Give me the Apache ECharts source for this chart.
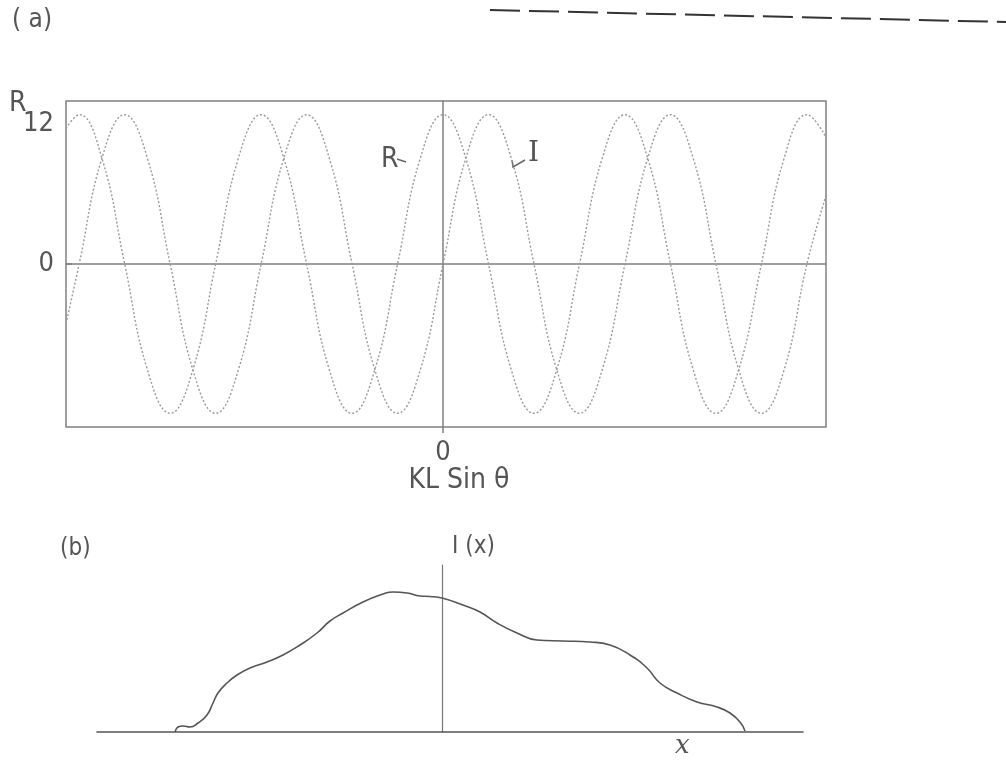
<!DOCTYPE html>
<html>
<head>
<meta charset="utf-8">
<script src="https://cdn.jsdelivr.net/npm/echarts@6/dist/echarts.min.js"></script>
<style>
html,body{margin:0;padding:0;background:#fff;}
#c{width:1006px;height:762px;}
</style>
</head>
<body>
<div id="c"></div>
<script>
// Panel (a): KL sin(theta) in quarter-period units, R and I values
const xA = [-8.29, -8, -7.5, -7, -6.5, -6, -5.5, -5, -4.5, -4, -3.5, -3, -2.5, -2, -1.5, -1, -0.5, 0,
            0.5, 1, 1.5, 2, 2.5, 3, 3.5, 4, 4.5, 5, 5.5, 6, 6.5, 7, 7.5, 8, 8.42];
const rVals = [10.9, 12, 8.5, 0, -8.5, -12, -8.5, 0, 8.5, 12, 8.5, 0, -8.5, -12, -8.5, 0, 8.5, 12,
               8.5, 0, -8.5, -12, -8.5, 0, 8.5, 12, 8.5, 0, -8.5, -12, -8.5, 0, 8.5, 12, 10.2];
const iVals = [-4.8, 0, 8.5, 12, 8.5, 0, -8.5, -12, -8.5, 0, 8.5, 12, 8.5, 0, -8.5, -12, -8.5, 0,
               8.5, 12, 8.5, 0, -8.5, -12, -8.5, 0, 8.5, 12, 8.5, 0, -8.5, -12, -8.5, 0, 5.5];
const yTicksA = [0, 12];
const xTicksA = [0];

// Panel (b): I(x) profile
const xB = [-2.67, -2.64, -2.59, -2.52, -2.44, -2.35, -2.29, -2.24, -2.15, -2.05, -1.92, -1.75, -1.59,
            -1.42, -1.25, -1.12, -0.99, -0.79, -0.59, -0.49, -0.35, -0.22, -0.12, 0, 0.21, 0.38, 0.55,
            0.75, 0.95, 1.21, 1.48, 1.68, 1.88, 2.05, 2.18, 2.35, 2.55, 2.75, 2.88, 2.98, 3.03];
const iB = [0, 0.5, 0.6, 0.5, 0.9, 1.7, 2.9, 3.9, 4.9, 5.7, 6.4, 7.0, 7.7,
            8.7, 9.9, 11.1, 11.9, 13.0, 13.8, 14.0, 13.9, 13.6, 13.55, 13.4, 12.7, 12.0, 10.9,
            9.9, 9.2, 9.1, 9.0, 8.7, 7.7, 6.4, 4.9, 3.9, 3.0, 2.5, 1.9, 1.0, 0.1];

const FONT = '"Liberation Sans Narrow", "DejaVu Sans Condensed", "Liberation Sans", sans-serif';
const TXT = '#555';

const chart = echarts.init(document.getElementById('c'), null, {renderer: 'canvas'});
chart.setOption({
  animation: false,
  backgroundColor: '#fff',
  grid: [
    {left: 66, right: 180, top: 101, bottom: 335, show: true, borderColor: '#808080', borderWidth: 1.5, backgroundColor: 'transparent'},
    {left: 97, right: 203, top: 565, bottom: 30}
  ],
  xAxis: [
    {gridIndex: 0, type: 'value', min: -8.29, max: 8.42,
     axisLine: {show: true, onZero: true, lineStyle: {color: '#808080', width: 1.5}},
     axisTick: {show: false}, axisLabel: {show: false}, splitLine: {show: false}},
    {gridIndex: 0, type: 'value', min: -8.29, max: 8.42, position: 'bottom',
     axisLine: {show: false, onZero: false},
     axisTick: {show: true, inside: false, length: 6, customValues: xTicksA, lineStyle: {color: '#808080', width: 1.5}},
     axisLabel: {show: true, customValues: xTicksA, margin: 12, fontSize: 27, fontFamily: FONT, color: TXT},
     splitLine: {show: false},
     name: 'KL Sin θ', nameLocation: 'middle', nameGap: 38,
     nameTextStyle: {fontSize: 28, fontFamily: FONT, color: TXT, padding: [0, 0, 0, 26]}},
    {gridIndex: 1, type: 'value', min: -3.45, max: 3.61,
     axisLine: {show: true, onZero: false, lineStyle: {color: '#555', width: 1.5}},
     axisTick: {show: false}, axisLabel: {show: false}, splitLine: {show: false}}
  ],
  yAxis: [
    {gridIndex: 0, type: 'value', min: -13.1, max: 13.1,
     axisLine: {show: true, onZero: true, lineStyle: {color: '#808080', width: 1.5}},
     axisTick: {show: false}, axisLabel: {show: false}, splitLine: {show: false}},
    {gridIndex: 0, type: 'value', min: -13.1, max: 13.1, position: 'left',
     axisLine: {show: false, onZero: false},
     axisTick: {show: true, inside: true, length: 6, customValues: [0], lineStyle: {color: '#808080', width: 1.5}},
     axisLabel: {show: true, customValues: yTicksA, margin: 12, fontSize: 27, fontFamily: FONT, color: TXT,
       formatter: function (v) { return v === 12 ? '{s|12}' : String(v); },
       rich: {s: {fontSize: 27, fontFamily: FONT, color: TXT, padding: [18, 0, 0, 0]}}},
     splitLine: {show: false}},
    {gridIndex: 1, type: 'value', min: 0, max: 16.7,
     axisLine: {show: true, onZero: true, lineStyle: {color: '#777', width: 1.2}},
     axisTick: {show: false}, axisLabel: {show: false}, splitLine: {show: false}}
  ],
  series: [
    {name: 'R', type: 'line', xAxisIndex: 0, yAxisIndex: 0, smooth: 0.45, showSymbol: false,
     lineStyle: {color: '#9a9a9a', width: 1.4, type: [2, 2]},
     data: xA.map((x, i) => [x, rVals[i]])},
    {name: 'I', type: 'line', xAxisIndex: 0, yAxisIndex: 0, smooth: 0.45, showSymbol: false,
     lineStyle: {color: '#9a9a9a', width: 1.4, type: [2, 2]},
     data: xA.map((x, i) => [x, iVals[i]])},
    {name: 'I(x)', type: 'line', xAxisIndex: 2, yAxisIndex: 2, smooth: 0.5, showSymbol: false, clip: false,
     lineStyle: {color: '#555', width: 1.6},
     data: xB.map((x, i) => [x, iB[i]])}
  ],
  graphic: [
    {type: 'text', left: 12, top: 7, style: {text: '( a)', font: '26px ' + FONT, fill: TXT}},
    {type: 'text', left: 9, top: 90, style: {text: 'R', font: '28px ' + FONT, fill: TXT}},
    {type: 'text', left: 381, top: 146, style: {text: 'R', font: '28px ' + FONT, fill: TXT}},
    {type: 'line', shape: {x1: 397, y1: 159, x2: 406, y2: 162}, style: {stroke: '#666', lineWidth: 1.5}},
    {type: 'text', left: 528, top: 140, style: {text: 'I', font: '28px "DejaVu Serif", serif', fill: TXT}},
    {type: 'polyline', shape: {points: [[512, 160], [513, 167], [525, 160]]}, style: {stroke: '#666', lineWidth: 1.5, fill: null}},
    {type: 'text', left: 60, top: 537, style: {text: '(b)', font: '24px ' + FONT, fill: TXT}},
    {type: 'text', left: 452, top: 535, style: {text: 'I (x)', font: '24px ' + FONT, fill: TXT}},
    {type: 'text', left: 675, top: 733, style: {text: 'x', font: 'italic 26px "DejaVu Serif", serif', fill: TXT}},
    {type: 'line', shape: {x1: 490, y1: 10, x2: 1006, y2: 22}, style: {stroke: '#333', lineWidth: 2, lineDash: [30, 9]}}
  ]
});
</script>
</body>
</html>
